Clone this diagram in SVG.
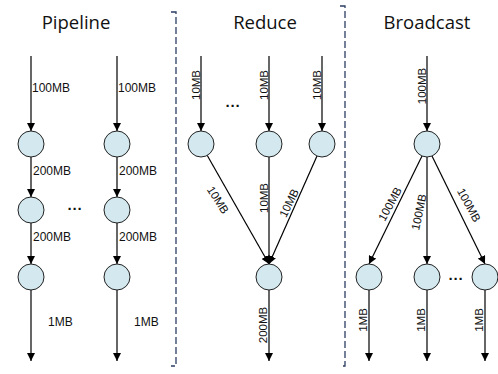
<svg xmlns="http://www.w3.org/2000/svg" width="498" height="374" viewBox="0 0 498 374">
<defs>
<marker id="ah" viewBox="0 0 10 10" refX="10" refY="5" markerWidth="8" markerHeight="8" markerUnits="userSpaceOnUse" orient="auto">
<path d="M0,0 L10,5 L0,10 z" fill="#000"/>
</marker>
</defs>
<style>
.e{stroke:#000;stroke-width:1.2;fill:none;marker-end:url(#ah)}
.n{fill:#D3E9EF;stroke:#222;stroke-width:1}
.t{font-family:"Open Sans","Noto Sans",sans-serif;font-size:18.5px;fill:#111;text-anchor:middle}
.l{font-family:"Liberation Sans",Arial,sans-serif;font-size:12px;fill:#111}
.r{font-family:"Liberation Sans",Arial,sans-serif;font-size:11.5px;fill:#111;text-anchor:middle}
.d{font-family:"Liberation Sans",Arial,sans-serif;font-size:15px;font-weight:bold;fill:#111;text-anchor:middle}
.s{stroke:#2B3D63;stroke-width:1.3;fill:none;stroke-dasharray:7,3}
</style>
<rect width="498" height="374" fill="#fff"/>
<g id="separators">
<path class="s" d="M171,12 H176 V366 H171"/>
<path class="s" d="M340,6 H345 V366 H340"/>
</g>
<g id="titles">
<text class="t" x="76" y="29">Pipeline</text>
<text class="t" x="265" y="29">Reduce</text>
<text class="t" x="427" y="29">Broadcast</text>
</g>
<g id="connectors">
<line class="e" x1="31" y1="56" x2="31" y2="131"/>
<line class="e" x1="31" y1="157" x2="31" y2="197"/>
<line class="e" x1="31" y1="223" x2="31" y2="264"/>
<line class="e" x1="31" y1="290" x2="31" y2="361"/>
<line class="e" x1="117" y1="56" x2="117" y2="131"/>
<line class="e" x1="117" y1="157" x2="117" y2="197"/>
<line class="e" x1="117" y1="223" x2="117" y2="264"/>
<line class="e" x1="117" y1="290" x2="117" y2="361"/>
<line class="e" x1="201" y1="56" x2="201" y2="131"/>
<line class="e" x1="269" y1="56" x2="269" y2="131"/>
<line class="e" x1="322" y1="56" x2="322" y2="131"/>
<line class="e" x1="207" y1="155" x2="269" y2="264"/>
<line class="e" x1="269" y1="157" x2="269" y2="264"/>
<line class="e" x1="317" y1="156" x2="269" y2="264"/>
<line class="e" x1="269" y1="290" x2="269" y2="361"/>
<line class="e" x1="427" y1="56" x2="427" y2="131"/>
<line class="e" x1="422" y1="156" x2="369" y2="264"/>
<line class="e" x1="427" y1="157" x2="427" y2="264"/>
<line class="e" x1="432" y1="156" x2="485" y2="264"/>
<line class="e" x1="369" y1="290" x2="369" y2="361"/>
<line class="e" x1="427" y1="290" x2="427" y2="361"/>
<line class="e" x1="485" y1="290" x2="485" y2="361"/>
</g>
<g id="p1a"><circle class="n" cx="31" cy="144" r="13"/></g>
<g id="p1b"><circle class="n" cx="31" cy="210" r="13"/></g>
<g id="p1c"><circle class="n" cx="31" cy="277" r="13"/></g>
<g id="p2a"><circle class="n" cx="117" cy="144" r="13"/></g>
<g id="p2b"><circle class="n" cx="117" cy="210" r="13"/></g>
<g id="p2c"><circle class="n" cx="117" cy="277" r="13"/></g>
<g id="r1"><circle class="n" cx="201" cy="144" r="13"/></g>
<g id="r2"><circle class="n" cx="269" cy="144" r="13"/></g>
<g id="r3"><circle class="n" cx="322" cy="144" r="13"/></g>
<g id="r4"><circle class="n" cx="269" cy="277" r="13"/></g>
<g id="b0"><circle class="n" cx="427" cy="144" r="13"/></g>
<g id="b1"><circle class="n" cx="369" cy="277" r="13"/></g>
<g id="b2"><circle class="n" cx="427" cy="277" r="13"/></g>
<g id="b3"><circle class="n" cx="485" cy="277" r="13"/></g>
<g id="labels">
<text class="l" x="32" y="92">100MB</text>
<text class="l" x="118" y="92">100MB</text>
<text class="l" x="33" y="175">200MB</text>
<text class="l" x="119" y="175">200MB</text>
<text class="l" x="33" y="241">200MB</text>
<text class="l" x="119" y="241">200MB</text>
<text class="l" x="48" y="326">1MB</text>
<text class="l" x="134" y="326">1MB</text>
<text class="r" transform="translate(200,85) rotate(-90)">10MB</text>
<text class="r" transform="translate(268,85) rotate(-90)">10MB</text>
<text class="r" transform="translate(321,85) rotate(-90)">10MB</text>
<text class="r" transform="translate(268,198) rotate(-90)">10MB</text>
<text class="r" transform="translate(218,200) rotate(57.6)" dy="4">10MB</text>
<text class="r" transform="translate(289,203) rotate(-63.6)" dy="4">10MB</text>
<text class="r" transform="translate(267,325) rotate(-90)">200MB</text>
<text class="r" transform="translate(426,86) rotate(-90)">100MB</text>
<text class="r" transform="translate(390,204) rotate(-61.5)" dy="4">100MB</text>
<text class="r" transform="translate(419,212) rotate(-78)" dy="4">100MB</text>
<text class="r" transform="translate(469,205) rotate(61.5)" dy="4">100MB</text>
<text class="r" transform="translate(367,320) rotate(-90)">1MB</text>
<text class="r" transform="translate(425,320) rotate(-90)">1MB</text>
<text class="r" transform="translate(483,320) rotate(-90)">1MB</text>
<text class="d" x="75" y="214">···</text>
<text class="d" x="233" y="111">···</text>
<text class="d" x="456" y="284">···</text>
</g>
</svg>
